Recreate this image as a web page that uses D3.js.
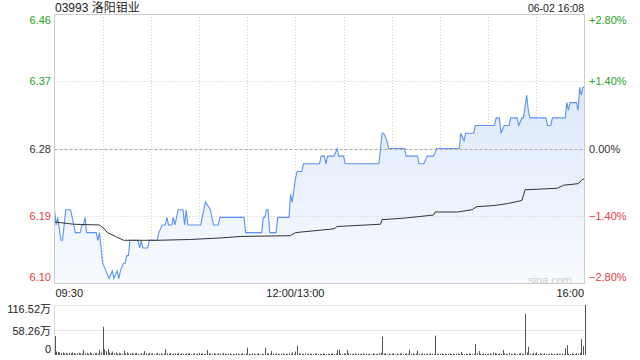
<!DOCTYPE html>
<html><head><meta charset="utf-8">
<script src="https://cdn.jsdelivr.net/npm/d3@7"></script>
<style>body{margin:0;background:#fff}svg{display:block;font-family:"Liberation Sans",Arial,"Noto Sans CJK SC",sans-serif}</style>
</head><body><svg id="c" width="640" height="360"></svg>
<script>
const title = "03993 洛阳钼业";
const stamp = "06-02 16:08";
const prevClose = 6.28;
const pctTicks = [2.8, 1.4, 0, -1.4, -2.8];
const timeLabels = ["09:30", "12:00/13:00", "16:00"];
const timeLabelMinutes = [0, 150, 330];
const volTicks = [116.52, 58.26, 0];
const volTickLabels = ["116.52万", "58.26万", "0"];

const priceT = [0,1,2,4,5,7,10,12,13,16,17,18,19,20,26,27,28,30,32,34,36,37,39,40,41,43,44,45,46,47,52,53,54,55,58,59,64,65,67,69,70,71,73,74,75,77,80,81,82,83,91,92,94,97,98,99,102,103,118,119,129,130,131,132,133,134,138,139,146,147,148,150,151,154,155,165,166,168,169,170,174,176,177,180,181,202,204,205,207,208,218,219,226,227,230,232,236,238,252,253,255,256,261,262,274,275,277,278,280,283,284,288,289,291,292,294,295,296,306,307,309,310,318,319,320,321,325,326,327,328,329,330];
const priceV = [6.20,6.18,6.19,6.16,6.16,6.20,6.20,6.18,6.17,6.17,6.18,6.18,6.19,6.17,6.17,6.16,6.17,6.13,6.12,6.11,6.12,6.11,6.12,6.11,6.12,6.13,6.13,6.14,6.14,6.16,6.16,6.15,6.16,6.15,6.15,6.16,6.16,6.17,6.18,6.18,6.19,6.18,6.18,6.19,6.18,6.20,6.20,6.18,6.20,6.18,6.18,6.19,6.21,6.20,6.19,6.18,6.18,6.19,6.19,6.17,6.17,6.19,6.19,6.20,6.20,6.17,6.17,6.19,6.19,6.22,6.21,6.24,6.25,6.25,6.26,6.26,6.27,6.27,6.26,6.27,6.27,6.28,6.27,6.27,6.26,6.26,6.30,6.30,6.29,6.28,6.28,6.27,6.27,6.26,6.26,6.27,6.27,6.28,6.28,6.30,6.29,6.30,6.30,6.31,6.31,6.32,6.32,6.30,6.31,6.31,6.32,6.32,6.31,6.32,6.32,6.35,6.33,6.32,6.32,6.31,6.31,6.32,6.32,6.34,6.33,6.34,6.34,6.33,6.36,6.35,6.36,6.36];

const avgT = [0,12,28,30,33,38,43,64,84,103,116,147,150,174,176,203,204,218,236,237,251,260,263,271,276,282,291,293,313,317,326,329,330];
const avgV = [6.184,6.181,6.180,6.177,6.170,6.165,6.160,6.160,6.161,6.163,6.165,6.166,6.170,6.175,6.178,6.181,6.187,6.189,6.193,6.197,6.197,6.200,6.204,6.205,6.206,6.208,6.212,6.226,6.228,6.232,6.234,6.240,6.240];

const volume = [
44,8,7,6,5,6,4,5,3,5,4,6,5,3,4,5,4,3,12,4,
5,3,6,4,3,4,5,3,12,6,66,13,9,14,6,5,8,4,6,3,
5,4,3,10,4,6,3,4,5,3,4,5,3,2,4,3,9,4,3,5,
3,4,2,3,5,3,4,2,3,14,4,3,5,2,3,4,3,5,2,4,
3,2,4,3,5,2,3,4,2,3,5,3,4,2,3,12,4,3,2,4,
3,2,4,3,2,5,3,2,3,4,2,3,2,4,3,2,3,4,2,3,
17,3,2,4,3,2,3,4,2,3,2,17,4,3,2,9,3,2,4,3,
2,3,4,2,3,2,4,3,6,2,8,22,4,3,2,3,4,2,3,2,
3,2,4,3,2,3,2,4,3,2,3,2,3,4,2,3,12,12,3,2,
4,3,12,4,3,2,3,4,2,3,2,3,4,2,3,2,3,2,4,3,
2,3,4,5,43,3,4,2,3,2,3,4,2,3,2,4,3,2,3,4,
2,12,3,4,2,3,10,3,2,4,3,2,3,2,4,3,2,45,3,2,
3,4,2,3,2,3,4,2,3,2,3,4,2,7,3,2,3,2,4,3,
2,3,26,4,9,3,2,4,3,2,3,4,2,6,5,3,2,4,3,12,
4,3,2,5,3,2,4,3,2,3,4,2,3,96,6,19,3,2,5,3,
6,2,4,3,2,4,3,2,3,4,2,3,2,4,3,2,3,2,16,23,
3,2,4,3,2,4,3,5,37,21,116.52];

const svg = d3.select("#c");
const L = 54.5, R = 584.5, T = 14, B = 283;
const VT = 305, VB = 355;
const green = "#23a423", red = "#e83b3b", dark = "#333";

const x = d3.scaleLinear().domain([0, 330]).range([L, R]);
const y = d3.scaleLinear().domain([prevClose * (1 - 0.028), prevClose * (1 + 0.028)]).range([B, T]);
const yv = d3.scaleLinear().domain([0, 116.52]).range([VB, VT]);

const defs = svg.append("defs");
const grad = defs.append("linearGradient").attr("id", "g").attr("gradientUnits", "userSpaceOnUse")
  .attr("x1", 0).attr("x2", 0).attr("y1", T).attr("y2", B);
grad.append("stop").attr("offset", 0).attr("stop-color", "#d2e1fa");
grad.append("stop").attr("offset", 1).attr("stop-color", "#f8fbff");

// title
svg.append("text").attr("x", 55).attr("y", 12).attr("font-size", 12).attr("fill", "#222").text(title);
svg.append("text").attr("x", 584).attr("y", 12).attr("font-size", 10.5).attr("fill", "#222").attr("text-anchor", "end").text(stamp);

// vertical grid
const vg = d3.range(1, 11).map(k => k * 30);
svg.append("g").selectAll("line").data(vg).join("line")
  .attr("x1", d => Math.round(x(d)) + 0.5).attr("x2", d => Math.round(x(d)) + 0.5)
  .attr("y1", T).attr("y2", B).attr("stroke", "#ccc").attr("stroke-dasharray", "1,2");

// area + lines
const pts = priceT.map((t, i) => [t, priceV[i]]);
svg.append("path").datum(pts)
  .attr("d", d3.area().x(d => x(d[0])).y0(B).y1(d => y(d[1])))
  .attr("fill", "url(#g)");

// horizontal grid
pctTicks.forEach(p => {
  if (p === 2.8 || p === -2.8) return;
  const yy = Math.round(y(prevClose * (1 + p / 100))) + 0.5;
  svg.append("line").attr("x1", L).attr("x2", R).attr("y1", yy).attr("y2", yy)
    .attr("stroke", p === 0 ? "#aaa" : "#ccc").attr("stroke-dasharray", p === 0 ? "3,2" : "1,2");
});

svg.append("path").datum(pts)
  .attr("d", d3.line().x(d => x(d[0])).y(d => y(d[1])))
  .attr("fill", "none").attr("stroke", "#5b93f2").attr("stroke-width", 1.1);

const avgPts = avgT.map((t, i) => [t, avgV[i]]);
svg.append("path").datum(avgPts)
  .attr("d", d3.line().x(d => x(d[0])).y(d => y(d[1])))
  .attr("fill", "none").attr("stroke", "#333").attr("stroke-width", 1);

// frame
svg.append("rect").attr("x", L).attr("y", T + 0.5).attr("width", R - L).attr("height", B - T)
  .attr("fill", "none").attr("stroke", "#ccc");

// watermark
svg.append("text").attr("x", 572).attr("y", 284).attr("font-size", 11).attr("fill", "#ccc")
  .attr("text-anchor", "end").text("sina.com");

// price labels
pctTicks.forEach(p => {
  const v = prevClose * (1 + p / 100);
  const yy = y(v);
  const by = p === 2.8 ? yy + 10 : p === -2.8 ? yy - 2 : yy + 4;
  const col = p > 0 ? green : p < 0 ? red : dark;
  svg.append("text").attr("x", 51).attr("y", by).attr("font-size", 11).attr("fill", col)
    .attr("text-anchor", "end").text(d3.format(".2f")(v));
  svg.append("text").attr("x", 589).attr("y", by).attr("font-size", 11).attr("fill", col)
    .text((p > 0 ? "+" : "") + d3.format(".2f")(p) + "%");
});

// time labels
timeLabels.forEach((s, i) => {
  const m = timeLabelMinutes[i];
  const anchor = i === 0 ? "start" : i === timeLabels.length - 1 ? "end" : "middle";
  svg.append("text").attr("x", i === 0 ? L + 1 : i === timeLabels.length - 1 ? R - 0.5 : x(m))
    .attr("y", 297).attr("font-size", 11).attr("fill", "#222").attr("text-anchor", anchor).text(s);
});

// volume panel
volTicks.forEach((v, i) => {
  const yy = Math.round(yv(v)) + 0.5;
  if (v > 0) svg.append("line").attr("x1", L).attr("x2", R).attr("y1", yy).attr("y2", yy)
    .attr("stroke", "#ccc").attr("stroke-dasharray", "1,1");
  const by = i === 0 ? yy + 7 : v === 0 ? yy - 3 : yy + 4;
  svg.append("text").attr("x", 51).attr("y", by).attr("font-size", 11).attr("fill", "#222")
    .attr("text-anchor", "end").text(volTickLabels[i]);
});
svg.append("line").attr("x1", L).attr("x2", L).attr("y1", VT).attr("y2", VB).attr("stroke", "#ddd");

svg.append("g").selectAll("rect").data(volume).join("rect")
  .attr("x", (d, i) => Math.round(x(i)) )
  .attr("width", 1)
  .attr("y", d => yv(d))
  .attr("height", d => VB - yv(d))
  .attr("fill", "#555");
</script></body></html>
